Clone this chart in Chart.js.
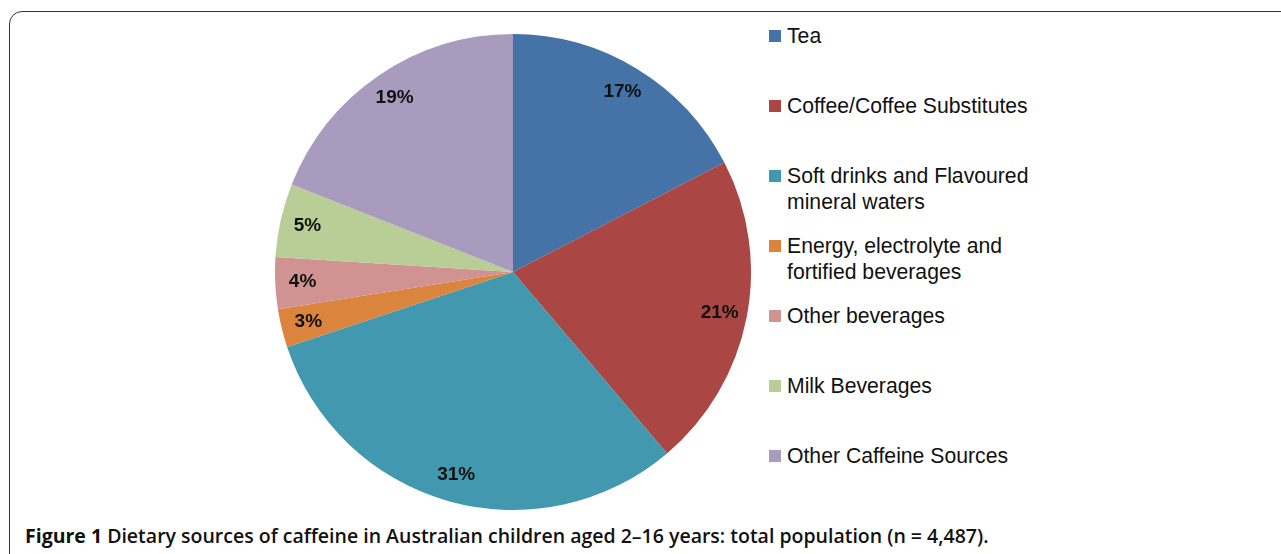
<!DOCTYPE html>
<html>
<head>
<meta charset="utf-8">
<script src="https://cdn.jsdelivr.net/npm/chart.js@4/dist/chart.umd.min.js"></script>
<style>
  body { margin: 0; background: #fff; width: 1281px; height: 554px; overflow: hidden; position: relative; font-family: "Liberation Sans", Arial, sans-serif; }
  #frame { position: absolute; left: 9px; top: 11px; width: 1300px; height: 560px; border: 1.5px solid #333; border-radius: 13px; box-sizing: border-box; }
  #pieBox { position: absolute; left: 275px; top: 34px; width: 476px; height: 476px; }
  #legend { position: absolute; left: 769px; top: 0; }
  .item { position: absolute; left: 0; white-space: nowrap; font-size: 21.2px; color: #111; line-height: 26px; }
  .item .sw { position: absolute; left: 0; top: 7px; width: 12px; height: 12px; }
  .item .tx { position: absolute; left: 18px; top: 0; }
  #caption { position: absolute; left: 25px; top: 522px; font-family: "Open Sans", sans-serif; font-weight: 600; font-size: 19.5px; color: #111; white-space: nowrap; letter-spacing: 0px; }
  #caption b { font-weight: 700; }
</style>
</head>
<body>
<div id="frame"></div>
<div id="pieBox"><canvas id="pieChart"></canvas></div>
<div id="legend"></div>
<div id="caption"><b>Figure 1</b> Dietary sources of caffeine in Australian children aged 2–16 years: total population (n = 4,487).</div>
<script>
const categories = [
  "Tea",
  "Coffee/Coffee Substitutes",
  "Soft drinks and Flavoured mineral waters",
  "Energy, electrolyte and fortified beverages",
  "Other beverages",
  "Milk Beverages",
  "Other Caffeine Sources"
];
const legendLines = [
  ["Tea"],
  ["Coffee/Coffee Substitutes"],
  ["Soft drinks and Flavoured", "mineral waters"],
  ["Energy, electrolyte and", "fortified beverages"],
  ["Other beverages"],
  ["Milk Beverages"],
  ["Other Caffeine Sources"]
];
const shares = [17.4, 21.4, 31.1, 2.6, 3.5, 5.0, 19.0];
const colors = ["#4572A7", "#AA4643", "#4198AF", "#DB843D", "#D09392", "#B9CD96", "#A99BBD"];

// legend on the right, one row every 70px
const legendEl = document.getElementById("legend");
legendLines.forEach((lines, i) => {
  const d = document.createElement("div");
  d.className = "item";
  d.style.top = (23 + 70 * i) + "px";
  d.innerHTML = '<span class="sw" style="background:' + colors[i] + '"></span><span class="tx">' + lines.join("<br>") + "</span>";
  legendEl.appendChild(d);
});

const pctLabels = {
  id: "pctLabels",
  afterDatasetsDraw(chart) {
    const ctx = chart.ctx;
    const meta = chart.getDatasetMeta(0);
    ctx.save();
    ctx.font = "bold 19px 'Liberation Sans', Arial, sans-serif";
    ctx.fillStyle = "#111";
    ctx.textAlign = "center";
    ctx.textBaseline = "middle";
    meta.data.forEach((arc, i) => {
      const mid = (arc.startAngle + arc.endAngle) / 2;
      const r = arc.outerRadius * 0.885;
      const x = arc.x + Math.cos(mid) * r;
      const y = arc.y + Math.sin(mid) * r;
      ctx.fillText(Math.round(shares[i]) + "%", x, y);
    });
    ctx.restore();
  }
};

const pieCtx = document.getElementById("pieChart").getContext("2d");
new Chart(pieCtx, {
  type: "pie",
  data: {
    labels: categories,
    datasets: [
      {
        data: shares,
        backgroundColor: colors,
        borderWidth: 0
      }
    ]
  },
  options: {
    responsive: true,
    maintainAspectRatio: false,
    animation: false,
    layout: { padding: 0 },
    plugins: { legend: { display: false }, tooltip: { enabled: false } }
  },
  plugins: [pctLabels]
});
</script>
</body>
</html>
